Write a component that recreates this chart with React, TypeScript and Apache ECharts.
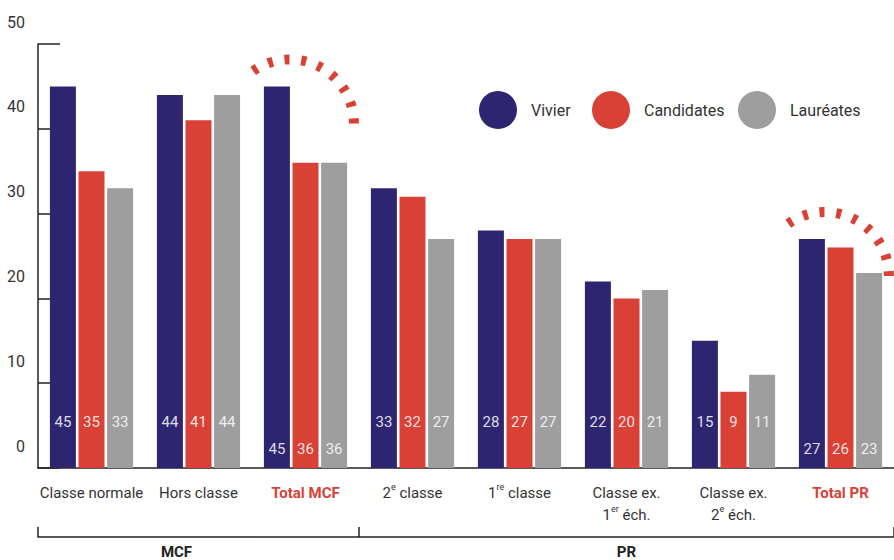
import React, { useEffect, useRef } from "react";
import * as echarts from "echarts";

const categories = [
  "Classe normale",
  "Hors classe",
  "Total MCF",
  "2e classe",
  "1re classe",
  "Classe ex. 1er éch.",
  "Classe ex. 2e éch.",
  "Total PR",
];
const vivier = [45, 44, 45, 33, 28, 22, 15, 27];
const candidates = [35, 41, 36, 32, 27, 20, 9, 26];
const laureates = [33, 44, 36, 27, 27, 21, 11, 23];
const groupNames = ["MCF", "PR"];
const groupSizes = [3, 5];
const yTicks = [0, 10, 20, 30, 40, 50];
const legendNames = ["Vivier", "Candidates", "Lauréates"];

const displayLabels: Record<string, string> = {
  "Classe normale": "Classe normale",
  "Hors classe": "Hors classe",
  "Total MCF": "{r|Total MCF}",
  "2e classe": "2{s|e} classe",
  "1re classe": "1{s|re} classe",
  "Classe ex. 1er éch.": "Classe ex.\n1{s|er} éch.",
  "Classe ex. 2e éch.": "Classe ex.\n2{s|e} éch.",
  "Total PR": "{r|Total PR}",
};

const FONT = "Roboto, 'Noto Sans', sans-serif";
const BLUE = "#2e2570";
const RED = "#d94136";
const GRAY = "#9e9e9e";

function barData(values: number[]) {
  return values.map((v, i) => ({
    value: v,
    label: { distance: categories[i].startsWith("Total") ? 12 : 39 },
  }));
}

export default function App() {
  const ref = useRef<HTMLDivElement>(null);
  useEffect(() => {
    if (!ref.current) return;
    const chart = echarts.init(ref.current, undefined, { renderer: "svg" });
    const barLabel = {
      show: true,
      position: "insideBottom",
      color: "rgba(255,255,255,0.85)",
      fontFamily: FONT,
      fontSize: 15,
    };
    const totalIdx = categories
      .map((c, i) => (c.startsWith("Total") ? i : -1))
      .filter((i) => i >= 0);

    // group boundaries & centres on a 0..N value scale aligned with category bands
    const bounds: number[] = [0];
    groupSizes.forEach((s) => bounds.push(bounds[bounds.length - 1] + s));
    const centres = groupSizes.map((_s, i) => (bounds[i] + bounds[i + 1]) / 2);

    const legendLefts = [479, 592, 738];

    chart.setOption({
      animation: false,
      textStyle: { fontFamily: FONT },
      grid: { left: 38, right: 0, top: 43, bottom: 92 },
      legend: legendNames.map((n, i) => ({
        data: [n],
        icon: "circle",
        itemWidth: 38,
        itemHeight: 38,
        padding: 0,
        left: legendLefts[i],
        top: 91,
        textStyle: { fontFamily: FONT, fontSize: 16, color: "#333", padding: [0, 0, 0, 9] },
      })),
      xAxis: [
        {
          type: "category",
          data: categories,
          axisLine: { lineStyle: { color: "#222", width: 1.5 } },
          axisTick: { inside: true, length: 10, lineStyle: { color: "#222", width: 1.5 } },
          axisLabel: {
            interval: 0,
            margin: 14,
            color: "#333",
            fontSize: 15,
            lineHeight: 22,
            fontFamily: FONT,
            formatter: (v: string) => displayLabels[v] ?? v,
            rich: {
              r: { color: RED, fontWeight: "bold", fontSize: 15, fontFamily: FONT, lineHeight: 22 },
              s: { fontSize: 9, verticalAlign: "top", fontFamily: FONT, color: "#333", lineHeight: 14 },
            },
          },
        },
        {
          type: "value",
          position: "bottom",
          offset: 69,
          min: 0,
          max: categories.length,
          splitLine: { show: false },
          axisLine: { show: true, lineStyle: { color: "#222", width: 1.5 } },
          axisTick: {
            show: true,
            inside: true,
            length: 10,
            customValues: bounds,
            lineStyle: { color: "#222", width: 1.5 },
          },
          axisLabel: {
            customValues: centres,
            formatter: (v: number) => {
              const i = centres.indexOf(v);
              return i === 0 ? "{a|" + groupNames[i] + "}" : i > 0 ? "{b|" + groupNames[i] + "}" : "";
            },
            margin: 7,
            rich: {
              a: { color: "#222", fontWeight: "bold", fontSize: 15, fontFamily: FONT, padding: [0, 44, 0, 0] },
              b: { color: "#222", fontWeight: "bold", fontSize: 15, fontFamily: FONT },
            },
          },
        },
      ],
      yAxis: {
        type: "value",
        min: yTicks[0],
        max: yTicks[yTicks.length - 1],
        interval: 10,
        splitLine: { show: false },
        axisLine: { show: true, lineStyle: { color: "#222", width: 1.5 } },
        axisTick: { show: true, inside: true, length: 22, lineStyle: { color: "#222", width: 1.5 } },
        axisLabel: {
          color: "#333",
          fontSize: 16,
          fontFamily: FONT,
          margin: 13,
          verticalAlign: "bottom",
          lineHeight: 44,
        },
      },
      series: [
        {
          name: "Vivier",
          type: "bar",
          barWidth: 26,
          barGap: "10%",
          itemStyle: { color: BLUE },
          label: barLabel,
          data: barData(vivier),
        },
        {
          name: "Candidates",
          type: "bar",
          barWidth: 26,
          barGap: "10%",
          itemStyle: { color: RED },
          label: barLabel,
          data: barData(candidates),
        },
        {
          name: "Lauréates",
          type: "bar",
          barWidth: 26,
          barGap: "10%",
          itemStyle: { color: GRAY },
          label: barLabel,
          data: barData(laureates),
        },
        {
          name: "highlight",
          type: "custom",
          z: 5,
          silent: true,
          clip: false,
          encode: { x: 0, y: 1 },
          data: totalIdx.map((i) => [i, vivier[i]]),
          renderItem: (_params: any, api: any) => {
            const c = api.coord([api.value(0), api.value(1)]);
            const cx = c[0] - 15.6;
            const cy = c[1] + 37;
            return {
              type: "arc",
              shape: { cx, cy, r: 64, startAngle: (-125 * Math.PI) / 180, endAngle: 0 },
              style: { fill: "none", stroke: RED, lineWidth: 10, lineDash: [5, 11.8] },
            };
          },
        },
      ],
    });
    return () => chart.dispose();
  }, []);
  return (
    <div
      ref={ref}
      style={{ position: "absolute", left: 0, top: 0, width: 894, height: 560 }}
    />
  );
}
